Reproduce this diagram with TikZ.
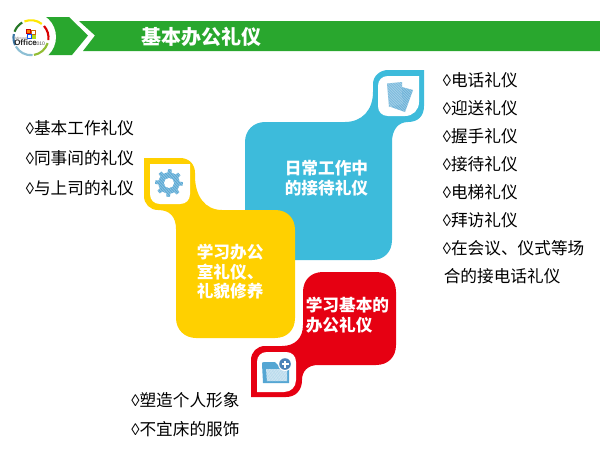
\documentclass[tikz,border=0pt]{standalone}
\usepackage{fontspec}
\setmainfont{Noto Sans CJK SC}
\newfontfamily\lozf{Liberation Sans}
\newfontfamily\logof{Liberation Sans}
\definecolor{cblue}{HTML}{3DBBDB}
\definecolor{cyel}{HTML}{FFD000}
\definecolor{cred}{HTML}{E60012}
\definecolor{cgreen}{HTML}{29A72E}
\definecolor{cicon}{HTML}{55A6D3}
\newcommand{\lz}{{\lozf ◊}}
\newcommand{\hatchlines}[4]{% x0 y0 x1 y1
  \foreach \k in {0,1.6,...,60}{\draw[white,line width=0.22pt,opacity=.55] (#1+\k-20,#4) -- (#1+\k,#2);}
}
\tikzset{
  item/.style={anchor=west,inner sep=0pt,font=\fontsize{12.5}{15}\selectfont,text=black},
  boxlabel/.style={anchor=west,inner sep=0pt,align=left,text=white,font=\fontsize{12.5}{14.7}\selectfont\bfseries},
  ring/.style={line width=1.6pt,line cap=butt},
}
\begin{document}
\begin{tikzpicture}[x=0.75pt,y=-0.75pt]
\useasboundingbox (0,0) rectangle (600,450);
% header
\fill[cgreen] (79,21) -- (600,21) -- (600,51) -- (83,51) -- (95,35.5) -- cycle;
\fill[cgreen] (44,17) -- (69,17) -- (88,35.5) -- (72,55) -- (44,55) -- cycle;
\fill[white] (31,37) circle (25);
\draw[ring,color=green!45!black!70!gray] (31,37.7) ++(200:17.5) arc (200:240:17.5);
\draw[ring,color=yellow!90!orange] (31,37.7) ++(248:17.5) arc (248:308:17.5);
\draw[ring,color=red!85!black] (31,37.7) ++(318:17.5) arc (318:368:17.5);
\draw[ring,color=yellow!60!green!85!black] (31,37.7) ++(378:17.5) arc (378:440:17.5);
\draw[ring,color=cyan!50!gray!70] (31,37.7) ++(445:17.5) arc (445:510:17.5);
\draw[ring,color=cyan!70!blue!70!black] (31,37.7) ++(515:17.5) arc (515:552:17.5);
\fill[orange] (26.5,29) rectangle (30.5,33);
\draw[red!80!black,line width=.4pt] (26.5,29) rectangle (30.5,33);
\draw[orange!80!black,line width=.6pt] (31.5,30) rectangle (35.5,34);
\draw[blue!70!cyan,line width=.6pt] (27,34) rectangle (31,38);
\fill[yellow!70!green] (32,35) rectangle (36,39);
\node[inner sep=0pt,anchor=west,text=black!85] (logoA) at (14,43) {\logof\bfseries\fontsize{6}{7}\selectfont Office};
\node[inner sep=0pt,anchor=west,text=black!70] (logoB) at (33.5,43.3) {\logof\fontsize{3.8}{4}\selectfont 2010};
\node[inner sep=0pt,anchor=west,text=black!55] (logoC) at (15,38) {\logof\fontsize{2.4}{3}\selectfont Microsoft};
\node[inner sep=0pt,anchor=west,text=white,font=\fontsize{15}{18}\selectfont\bfseries] (title) at (141,36.5) {基本办公礼仪};
% blue
\fill[cblue] (265,122) -- (345,122) .. controls (362,122) and (373,110) .. (373,92) -- (373,84)
  .. controls (373,76) and (380,70) .. (388,70) -- (424,70) -- (424,106)
  .. controls (424,116) and (418,122) .. (408,122) .. controls (398,122) and (392,130) .. (392,142)
  -- (392,240) .. controls (392,252) and (384,260) .. (372,260) -- (265,260)
  .. controls (254,260) and (245,252) .. (245,240) -- (245,142) .. controls (245,130) and (254,122) .. (265,122) -- cycle;
\fill[white] (378,86) .. controls (378,80) and (382,76) .. (388,76) -- (419,76) -- (419,102)
  .. controls (419,110) and (413,116) .. (405,116) -- (388,116) .. controls (382,116) and (378,112) .. (378,106) -- cycle;
% yellow
\fill[cyel] (144,158) -- (180,158) .. controls (189,158) and (195,164) .. (195,173) -- (195,176)
  .. controls (195,196) and (205,210) .. (222,210) -- (275,210) .. controls (287,210) and (295,218) .. (295,230)
  -- (295,318) .. controls (295,330) and (287,338) .. (275,338) -- (196,338)
  .. controls (185,338) and (176,330) .. (176,318) -- (176,229) .. controls (176,217) and (170,210) .. (158,210)
  .. controls (150,210) and (144,204) .. (144,196) -- cycle;
\fill[white] (150,164) -- (190,164) -- (190,194) .. controls (190,200) and (186,204) .. (180,204) -- (160,204)
  .. controls (154,204) and (150,200) .. (150,194) -- cycle;
% red
\fill[cred] (323,272) -- (376,272) .. controls (388,272) and (396,280) .. (396,292) -- (396,345)
  .. controls (396,357) and (388,365) .. (376,365) -- (318,365) .. controls (308,365) and (302,371) .. (302,380)
  .. controls (302,390) and (296,397) .. (286,397) -- (251,397) -- (251,360)
  .. controls (251,352) and (257,346) .. (265,346) -- (282,346) .. controls (295,346) and (303,338) .. (303,325)
  -- (303,292) .. controls (303,280) and (311,272) .. (323,272) -- cycle;
\fill[white] (257,362) .. controls (257,356) and (261,352) .. (267,352) -- (286,352) .. controls (292,352) and (296,356) .. (296,362)
  -- (296,380) .. controls (296,387) and (291,392) .. (284,392) -- (257,392) -- cycle;
% sheets icon
\begin{scope}
\clip (398,86) -- (413,90) -- (405,112) -- (391,107) -- cycle;
\fill[cicon!90] (385,80) rectangle (416,113);
\hatchlines{385}{80}{416}{113}
\end{scope}
\begin{scope}
\clip (387,83.5) -- (402,82) -- (403,104) -- (389,107) -- cycle;
\fill[cicon!80] (385,80) rectangle (416,113);
\hatchlines{385}{80}{416}{113}
\end{scope}
% gear icon
\begin{scope}[samples at={0,3.75,...,356.25}]
\clip plot ({169+(mod(\x+5,45)<19?13.8:10.6)*cos(\x)},{183+(mod(\x+5,45)<19?13.8:10.6)*sin(\x)}) -- cycle;
\fill[cicon] (150,165) rectangle (188,202);
\hatchlines{150}{165}{188}{202}
\end{scope}
\fill[white] (169,183) circle (5);
% folder icon
\begin{scope}
\clip (262,364) .. controls (262,363) and (262,362) .. (264,362) -- (275,362) -- (279,366) -- (289,366) -- (289,383) -- (263,383) -- cycle;
\fill[cicon] (260,360) rectangle (290,385);
\end{scope}
\begin{scope}
\clip (266,369) -- (287,369) -- (287,381) -- (267,381) -- cycle;
\fill[cicon!45] (262,366) rectangle (290,384);
\hatchlines{262}{366}{290}{384}
\end{scope}
\fill[white] (285,364) circle (7);
\fill[cyan!60!blue!80!black!85] (285,364) circle (5.8);
\draw[white,line width=1.1pt] (281.5,364) -- (288.5,364) (285,360.5) -- (285,367.5);
% box labels
\node[boxlabel] (blueT) at (284.5,178) {日常工作中\\的接待礼仪};
\node[boxlabel] (yelT) at (196.5,272) {学习办公\\室礼仪、\\礼貌修养};
\node[boxlabel] (redT) at (305.5,315) {学习基本的\\办公礼仪};
% lists
\node[item] (r1) at (442.5,80) {\lz 电话礼仪};
\node[item] (r2) at (442.5,108) {\lz 迎送礼仪};
\node[item] (r3) at (442.5,136) {\lz 握手礼仪};
\node[item] (r4) at (442.5,164) {\lz 接待礼仪};
\node[item] (r5) at (442.5,192) {\lz 电梯礼仪};
\node[item] (r6) at (442.5,220) {\lz 拜访礼仪};
\node[item] (r7) at (442.5,248) {\lz 在会议、仪式等场};
\node[item] (r8) at (443.5,276) {合的接电话礼仪};
\node[item] (l1) at (25.5,128) {\lz 基本工作礼仪};
\node[item] (l2) at (25.5,158) {\lz 同事间的礼仪};
\node[item] (l3) at (25.5,188) {\lz 与上司的礼仪};
\node[item] (b1) at (131,400) {\lz 塑造个人形象};
\node[item] (b2) at (131,429) {\lz 不宜床的服饰};
\end{tikzpicture}
\end{document}
